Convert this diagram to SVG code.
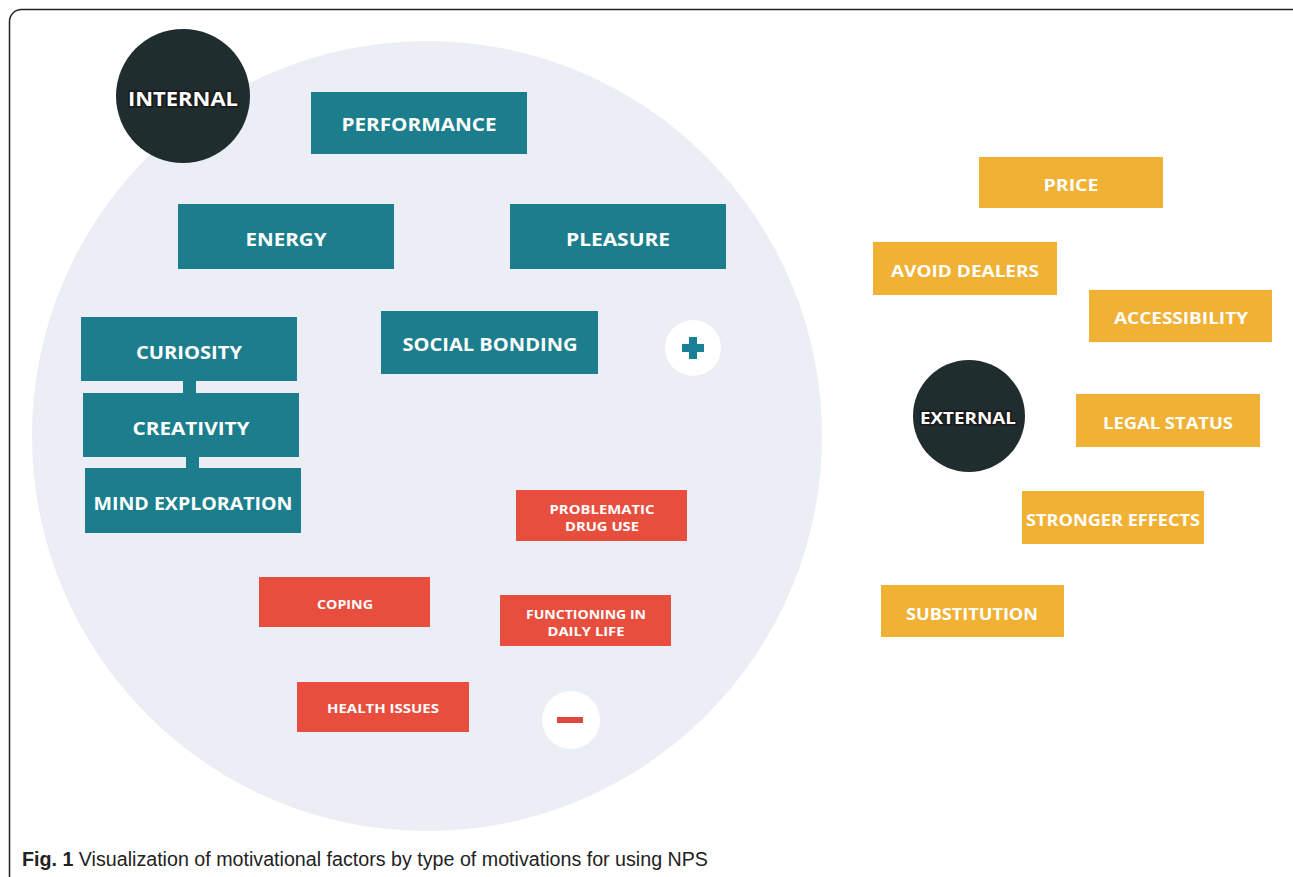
<svg xmlns="http://www.w3.org/2000/svg" width="1293" height="877" viewBox="0 0 1293 877">
<style>
.t{fill:#1c7e8c}
.r{fill:#e84e3e}
.y{fill:#f0b135}
.lbl{font-family:"Open Sans","Liberation Sans",sans-serif;font-weight:bold;fill:#ffffff;text-anchor:middle;dominant-baseline:central;font-size:18px}
.sm{font-size:13px}
.dark{fill:#1f2d2e}
.hd{font-family:"Open Sans","Liberation Sans",sans-serif;font-weight:bold;fill:#ffffff;stroke:#1a1a1a;stroke-width:3;paint-order:stroke;text-anchor:middle;dominant-baseline:central}
</style>
<rect x="0" y="0" width="1293" height="877" fill="#ffffff"/>
<rect x="9.5" y="9.5" width="1300" height="900" rx="12" fill="none" stroke="#222" stroke-width="1.5"/>
<circle id="bg-circle" cx="427" cy="436" r="395" fill="#eceef6"/>

<g id="connectors">
<rect class="t" x="183" y="379" width="13" height="16"/>
<rect class="t" x="186" y="455" width="13" height="15"/>
</g>

<g id="internal"><circle class="dark" cx="183" cy="96" r="67"/><text class="hd" x="183" y="99" font-size="19" textLength="110" lengthAdjust="spacingAndGlyphs">INTERNAL</text></g>
<g id="performance"><rect class="t" x="311" y="92" width="216" height="62"/><text class="lbl" x="419" y="124" textLength="155" lengthAdjust="spacingAndGlyphs">PERFORMANCE</text></g>
<g id="energy"><rect class="t" x="178" y="204" width="216" height="65"/><text class="lbl" x="286" y="239" textLength="81" lengthAdjust="spacingAndGlyphs">ENERGY</text></g>
<g id="pleasure"><rect class="t" x="510" y="204" width="216" height="65"/><text class="lbl" x="618" y="239" textLength="104" lengthAdjust="spacingAndGlyphs">PLEASURE</text></g>
<g id="curiosity"><rect class="t" x="81" y="317" width="216" height="64"/><text class="lbl" x="189" y="352" textLength="106" lengthAdjust="spacingAndGlyphs">CURIOSITY</text></g>
<g id="creativity"><rect class="t" x="83" y="393" width="216" height="64"/><text class="lbl" x="191" y="428" textLength="117" lengthAdjust="spacingAndGlyphs">CREATIVITY</text></g>
<g id="mind-exploration"><rect class="t" x="85" y="468" width="216" height="65"/><text class="lbl" x="193" y="503" textLength="199" lengthAdjust="spacingAndGlyphs">MIND EXPLORATION</text></g>
<g id="social-bonding"><rect class="t" x="381" y="311" width="217" height="63"/><text class="lbl" x="490" y="344" textLength="175" lengthAdjust="spacingAndGlyphs">SOCIAL BONDING</text></g>
<g id="plus"><circle cx="693" cy="348" r="28" fill="#ffffff"/><path d="M689 337h8v7h7v8h-7v7h-8v-7h-7v-8h7z" fill="#1b7f95"/></g>

<g id="problematic"><rect class="r" x="516" y="490" width="171" height="51"/><text class="lbl sm" x="602" y="509" textLength="105" lengthAdjust="spacingAndGlyphs">PROBLEMATIC</text><text class="lbl sm" x="602" y="526" textLength="74" lengthAdjust="spacingAndGlyphs">DRUG USE</text></g>
<g id="coping"><rect class="r" x="259" y="577" width="171" height="50"/><text class="lbl sm" x="345" y="604" textLength="56" lengthAdjust="spacingAndGlyphs">COPING</text></g>
<g id="functioning"><rect class="r" x="500" y="595" width="171" height="51"/><text class="lbl sm" x="586" y="614" textLength="120" lengthAdjust="spacingAndGlyphs">FUNCTIONING IN</text><text class="lbl sm" x="586" y="631" textLength="77" lengthAdjust="spacingAndGlyphs">DAILY LIFE</text></g>
<g id="health"><rect class="r" x="297" y="682" width="172" height="50"/><text class="lbl sm" x="383" y="708" textLength="112" lengthAdjust="spacingAndGlyphs">HEALTH ISSUES</text></g>
<g id="minus"><circle cx="571" cy="720" r="29" fill="#ffffff"/><rect x="557" y="717" width="26" height="6" fill="#e2473c"/></g>

<g id="external"><circle class="dark" cx="969" cy="416" r="56"/><text class="hd" x="968" y="418" font-size="16" textLength="96" lengthAdjust="spacingAndGlyphs">EXTERNAL</text></g>
<g id="price"><rect class="y" x="979" y="157" width="184" height="51"/><text class="lbl sm" x="1071" y="185" font-size="16" textLength="55" lengthAdjust="spacingAndGlyphs" style="font-size:16px">PRICE</text></g>
<g id="avoid-dealers"><rect class="y" x="873" y="242" width="184" height="53"/><text class="lbl" x="965" y="271" style="font-size:16px" textLength="148" lengthAdjust="spacingAndGlyphs">AVOID DEALERS</text></g>
<g id="accessibility"><rect class="y" x="1089" y="290" width="183" height="52"/><text class="lbl" x="1181" y="318" style="font-size:16px" textLength="134" lengthAdjust="spacingAndGlyphs">ACCESSIBILITY</text></g>
<g id="legal-status"><rect class="y" x="1076" y="394" width="184" height="53"/><text class="lbl" x="1168" y="423" style="font-size:16px" textLength="130" lengthAdjust="spacingAndGlyphs">LEGAL STATUS</text></g>
<g id="stronger-effects"><rect class="y" x="1022" y="491" width="182" height="53"/><text class="lbl" x="1113" y="520" style="font-size:16px" textLength="174" lengthAdjust="spacingAndGlyphs">STRONGER EFFECTS</text></g>
<g id="substitution"><rect class="y" x="881" y="585" width="183" height="52"/><text class="lbl" x="972" y="614" style="font-size:16px" textLength="132" lengthAdjust="spacingAndGlyphs">SUBSTITUTION</text></g>

<text x="22" y="866" font-family="'Liberation Sans',sans-serif" font-size="20" fill="#222" textLength="686" lengthAdjust="spacingAndGlyphs"><tspan font-weight="bold">Fig. 1</tspan> Visualization of motivational factors by type of motivations for using NPS</text>
</svg>
